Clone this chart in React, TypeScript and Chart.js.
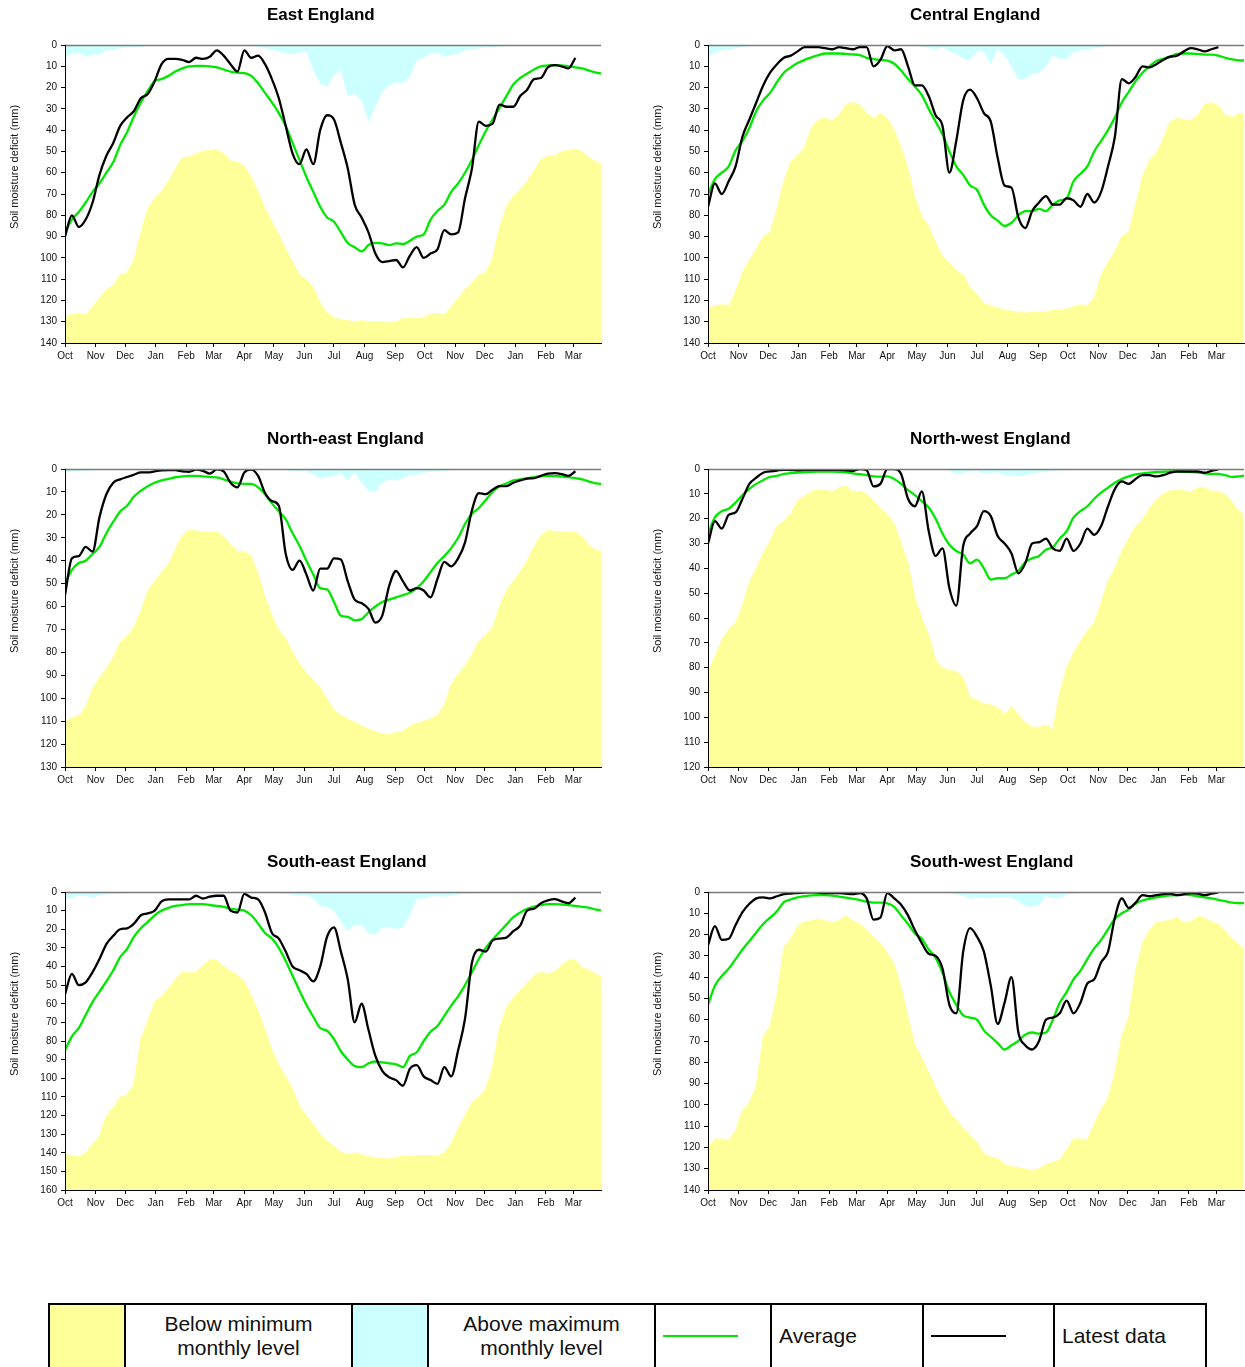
import React, { useEffect, useRef } from "react";
import { Chart, registerables } from "chart.js";

Chart.register(...registerables);

// ---------- axis / category data ----------
const MONTH_LABELS = ["Oct", "Nov", "Dec", "Jan", "Feb", "Mar", "Apr", "May", "Jun", "Jul", "Aug", "Sep", "Oct", "Nov", "Dec", "Jan", "Feb", "Mar"];
const MONTH_START_DAYS = [0, 31, 61, 92, 123, 151, 182, 212, 243, 273, 304, 335, 365, 396, 426, 457, 488, 516];
const DAYS_PER_STEP = 7; // weekly values
const X_MAX_DAY = 544;

// ---------- East England ----------
const EAST_MIN = [128, 126.5, 126, 127, 123, 119, 115, 113, 108, 107,
  101, 88, 77, 72, 69, 64, 58, 53, 52.5, 51,
  50, 49.5, 49, 51, 54.5, 55, 57, 62, 69, 77,
  83, 89, 96, 102, 108, 110.5, 114, 121, 126, 128,
  129, 129.5, 130, 129.5, 130, 130, 130, 130.3, 130, 128.5,
  128.5, 128.5, 128, 126.5, 126, 127, 123, 119, 115, 112,
  108, 107, 100, 86, 76, 71, 68, 64, 59, 54,
  52, 52, 50, 49.5, 49, 50, 53, 55, 56];
const EAST_MAX = [6, 4, 3.5, 5.5, 4.5, 4.5, 2.5, 2, 1.5, 1.2,
  1, 0.8, 0.5, 0.4, 0.3, 0.2, 0, 0, 0, 0,
  0, 0, 0, 0, 0, 0, 0, 0.3, 0.8, 1.5,
  2.2, 3, 3.8, 4.5, 3.5, 3, 12, 18, 20, 14,
  12, 24, 23, 26, 36, 29, 22, 19, 17.5, 18,
  15, 7, 6, 4, 3.5, 5.5, 4.5, 4.5, 2.5, 2,
  1.5, 1.2, 1, 0.8, 0.5, 0.4, 0.3, 0.2, 0, 0,
  0, 0, 0, 0, 0, 0, 0, 0, 0];
const EAST_AVG = [88, 82, 78.5, 74, 69, 65, 60, 55, 47, 41,
  33.5, 27, 21.5, 17, 16, 14.5, 12.5, 11, 10, 9.8,
  9.8, 10, 10.5, 11.5, 12.5, 13, 13.2, 14.5, 18, 22.5,
  27, 32, 38, 46, 54, 62, 69, 76, 81, 83,
  88, 93, 95, 97, 94, 93, 93.2, 94, 93.2, 93.5,
  92, 90, 89, 82, 78, 75, 69, 65, 60, 54,
  47, 40.5, 35, 29.5, 24, 18.5, 15.5, 13.5, 11.5, 10,
  9.6, 9.5, 9.6, 10, 10.5, 11, 12, 13, 13.5];
const EAST_LATEST = [90, 80, 85.5, 82, 74, 61, 52, 46, 38, 34,
  31, 25, 23, 17, 9, 6.5, 6.5, 7, 8, 6,
  6.5, 5.5, 2.5, 5, 9, 12.5, 2.5, 6, 5, 9,
  16, 25, 38, 51, 56, 49, 56, 40, 33, 35,
  46, 58, 75, 81, 88, 98, 102, 101.5, 101, 104.5,
  99, 95, 100, 98, 96, 87, 89, 88, 72, 58,
  36, 38, 37, 28, 29, 29, 24, 21, 16, 15.5,
  10.5, 9.5, 10, 11, 6];

// ---------- Central England ----------
const CENTRAL_MIN = [124, 122.5, 122, 122.5, 116, 107, 101, 96, 90, 88,
  77, 64, 55, 52, 48, 39, 35, 34.5, 35.5, 33,
  28, 27, 28, 32, 35, 32, 34.5, 40, 48, 58,
  72, 80.5, 85, 93, 99, 102.5, 106, 108, 114, 117,
  121.5, 122.5, 123.5, 124.5, 125, 125.5, 126, 125.5, 125.5, 125.5,
  124.5, 124.5, 124, 123, 122, 122.5, 119, 108, 102, 97,
  90, 88, 75, 62, 54, 51, 44, 36, 34.5, 35,
  35.5, 33, 28, 27, 28.5, 33, 34, 32, 33];
const CENTRAL_MAX = [6, 3.5, 2.5, 2, 1.5, 1, 0.5, 0.3, 0.2, 0,
  0, 0, 0, 0, 0, 0, 0, 0, 0, 0,
  0, 0, 0, 0, 0, 0, 0, 0, 0, 0,
  0.2, 0.8, 1.5, 2, 1, 3, 4, 6.5, 7, 3,
  3, 9, 1.5, 5, 10, 16, 16, 13.5, 13, 10,
  5, 6.5, 6.5, 3.5, 2.5, 2, 1.5, 1, 0.5, 0.3,
  0.2, 0, 0, 0, 0, 0, 0, 0, 0, 0,
  0, 0, 0, 0, 0, 0, 0, 0, 0];
const CENTRAL_AVG = [70, 63, 60, 57, 49.5, 45, 39, 31, 26, 22.5,
  17.5, 13, 10.5, 8.5, 7, 5.8, 4.8, 4, 4, 4,
  4.2, 4.4, 4.8, 6, 6.6, 7, 7.3, 8.8, 12, 16,
  19.5, 23.5, 30, 36, 42, 50, 57, 61, 66, 68,
  75, 80, 82.5, 85, 83.5, 80, 78, 78, 77, 78,
  75, 73, 72, 64, 60.5, 57, 50, 45, 40, 34,
  27, 22, 17, 13, 10, 7.5, 6.5, 5.5, 4.2, 4,
  4, 4.2, 4.5, 4.5, 5, 6, 6.7, 7.2, 7.3];
const CENTRAL_LATEST = [76, 65, 70, 64, 57, 43, 35, 27, 19, 13,
  9, 6, 5, 3, 1, 1, 1, 1.5, 2, 1,
  1.5, 2, 1, 1, 10, 7, 0.5, 2.5, 2, 10,
  19, 19, 24, 33, 38, 60, 45, 26, 21, 25,
  32, 36, 53, 66, 67, 81, 86, 78, 74, 71,
  75, 75, 72, 73, 76, 70, 74, 69, 57, 43,
  16, 18, 15, 10, 10.5, 9, 7, 5.5, 5, 3,
  1.5, 2, 3, 2, 1];

// ---------- North-east England ----------
const NORTHEAST_MIN = [110.5, 108.5, 107.5, 104, 96, 91, 87, 82, 75.5, 73,
  69, 62, 53, 49, 45, 41.5, 35, 29, 26.7, 27,
  27.5, 27.5, 27.5, 29.5, 33, 36, 36, 38, 46, 56,
  64, 70.5, 74, 80, 85, 89, 92, 95.5, 100.5, 105,
  107.5, 109, 110.5, 112, 113.5, 114.5, 115.5, 116, 115, 114.5,
  112, 111, 110, 109, 107.5, 103, 94, 89.5, 86, 81,
  75, 72.5, 69, 60, 53, 49, 45, 40, 34, 29,
  26.8, 27.2, 27.5, 27.5, 27.5, 29.5, 33.5, 35.5, 36];
const NORTHEAST_MAX = [1.5, 1.2, 1, 0.8, 0.5, 0.2, 0, 0, 0, 0,
  0, 0, 0, 0, 0, 0, 0, 0, 0, 0,
  0, 0, 0, 0, 0, 0, 0, 0, 0, 0,
  0, 0.3, 0.5, 0.8, 1, 0.8, 2.5, 4, 3.5, 3,
  2, 5, 1.5, 6, 9.5, 10, 6, 4.5, 5, 4,
  2.5, 2.5, 1.5, 1.2, 1, 0.8, 0.5, 0.2, 0, 0,
  0, 0, 0, 0, 0, 0, 0, 0, 0, 0,
  0, 0, 0, 0, 0, 0, 0, 0, 0];
const NORTHEAST_AVG = [50, 44, 41, 40, 37, 34, 28, 23, 18.5, 16,
  12, 9.5, 7.5, 6, 5, 4.3, 3.6, 3.2, 3, 3,
  3.2, 3.5, 3.7, 4.5, 5.5, 6.3, 6.5, 6.5, 8, 11,
  15, 18.5, 22, 28, 33.5, 40, 46, 52, 52.5, 58,
  64, 64.5, 66, 65.5, 62.5, 60, 58, 57, 56, 55,
  54, 52, 49, 45, 41, 38, 34.5, 30, 24, 19.5,
  17, 13.5, 10, 7.5, 6.3, 5, 4.5, 4, 3.5, 3.2,
  3, 3, 3.3, 3.5, 4, 4.5, 5.5, 6.3, 6.5];
const NORTHEAST_LATEST = [55, 39, 38, 34, 36, 21, 11, 6, 4.5, 3.5,
  2.5, 1.5, 1.5, 1, 0.6, 0.5, 0.5, 1, 1.2, 0.3,
  0.8, 2, 0.2, 1, 6, 8, 1.5, 0.3, 3, 10.5,
  14, 16, 37, 44, 40, 46, 53, 43.5, 43.5, 39,
  39.5, 49, 57, 58.5, 61, 67, 64, 51, 44.5, 49,
  53, 52, 53, 56, 48, 40.5, 42.5, 39, 32, 18,
  10.5, 11, 9, 7.5, 7.5, 6, 5, 4.2, 4, 3,
  2, 1.8, 2.2, 3, 1];

// ---------- North-west England ----------
const NORTHWEST_MIN = [82, 75.5, 69, 64.5, 62, 55, 45.5, 40, 34, 29,
  23, 21, 18, 12.5, 11, 9, 8.5, 8.5, 9.3, 7.5,
  7, 9, 9, 10, 13, 16, 18.5, 22, 30, 38,
  52, 60, 67, 77, 80, 81, 81.5, 84, 92, 93,
  94.5, 95, 96, 99, 95.5, 99, 102, 104, 104, 103,
  105, 90, 80, 74, 69.5, 65, 62, 54, 45, 40,
  33, 28, 23, 20.5, 16, 12.3, 10, 8.8, 8.5, 8.7,
  9.3, 7.5, 7.5, 9, 9, 10.5, 13.5, 17, 20];
const NORTHWEST_MAX = [0, 0, 0, 0, 0, 0, 0, 0, 0, 0,
  0, 0, 0, 0, 0, 0, 0, 0, 0, 0,
  0, 0, 0, 0, 0, 0, 0, 0, 0, 0,
  0, 0, 0, 0, 0, 0.6, 2, 1.5, 1, 0.6,
  2, 1.5, 1.3, 2.5, 2.3, 3, 2.5, 1.8, 1.5, 1.2,
  0.8, 0.6, 0.4, 0.2, 0, 0, 0, 0, 0, 0,
  0, 0, 0, 0, 0, 0, 0, 0, 0, 0,
  0, 0, 0, 0, 0, 0, 0, 0, 0];
const NORTHWEST_AVG = [26, 19.5, 17, 16, 13.5, 10.5, 8, 6, 4.5, 3.2,
  2.8, 2, 1.7, 1.5, 1.3, 1.1, 1, 1, 1, 1.1,
  1.4, 1.8, 2.1, 2.5, 3, 3.1, 3, 4, 6, 8.5,
  10.5, 13, 15.5, 20, 26, 30.5, 33, 34.5, 38, 36.5,
  40, 44.5, 44, 44, 42.5, 41, 37.5, 36, 35, 32.5,
  31.5, 28, 25, 19.5, 17, 15, 12, 9.5, 7.5, 5.5,
  4, 3, 2.2, 1.8, 1.5, 1.2, 1.1, 1, 1, 1,
  1.2, 1.4, 1.8, 2, 2, 2.5, 3.2, 3, 2.5];
const NORTHWEST_LATEST = [30, 21, 24, 18.5, 17.5, 12, 6, 3.5, 1.5, 1,
  0.6, 0.3, 0.4, 0.5, 0.3, 0.3, 0.3, 0.3, 0.3, 0.3,
  0.5, 0.8, 0, 0.5, 7, 6, 0, 0, 2, 12,
  15, 9, 25, 35, 32, 48, 55, 31, 26, 23,
  17, 19, 27, 30, 34, 42, 38, 30, 29.5, 28,
  32, 33, 28, 33, 30, 24, 26.5, 23, 15, 8,
  5, 6, 4, 2.5, 2.5, 3, 2.5, 1.5, 1, 1,
  1, 1, 1.5, 0.8, 0.2];

// ---------- South-east England ----------
const SOUTHEAST_MIN = [141, 141.5, 142, 140, 135.5, 131, 120, 116, 110, 109,
  103, 79, 69, 59, 56, 52, 47, 43, 43.5, 43,
  39.5, 36.5, 36.5, 40, 42.5, 44.5, 48, 56, 64, 74,
  85, 93, 99, 106, 115, 120, 125, 130, 134, 136.5,
  139.5, 141, 140, 141, 142, 143, 143, 143.5, 142.5, 142,
  142, 141.5, 141.5, 141.5, 141.8, 140, 135, 127, 120, 113,
  110, 106, 94, 73, 62, 57, 53, 49, 45, 43,
  44, 42.5, 39.5, 36.5, 36.5, 40.5, 42, 44, 46];
const SOUTHEAST_MAX = [4, 3, 2, 2, 3, 1.8, 1.3, 1, 0.8, 0.5,
  0.4, 0.3, 0.2, 0.1, 0, 0, 0, 0, 0, 0,
  0, 0, 0, 0, 0, 0, 0, 0, 0, 0,
  0, 0.5, 1, 1.5, 2, 1.5, 3.5, 7.5, 8, 10,
  16, 21, 17.5, 18, 22, 23, 19, 18.5, 20, 19,
  12, 4, 3.5, 2.5, 2, 2.5, 2, 1.3, 1, 0.8,
  0.5, 0.4, 0.3, 0.2, 0.1, 0, 0, 0, 0, 0,
  0, 0, 0, 0, 0, 0, 0, 0, 0];
const SOUTHEAST_AVG = [85, 77.5, 73, 66, 59, 53.5, 48, 42, 35, 30.5,
  24, 19.5, 16, 12.5, 10, 8.5, 7.5, 7, 6.5, 6.5,
  6.5, 7, 7.5, 8, 9, 9.5, 10, 12.5, 17, 22,
  25, 30, 37, 45, 53, 60.5, 67, 73, 74.5, 79,
  85.5, 90, 93.5, 94, 92, 91, 91.5, 92, 92.5, 94,
  88, 86, 80, 75, 72, 66.5, 61, 56, 50, 43,
  36, 30, 25.5, 21.5, 17.5, 13.5, 11, 9, 7.8, 7,
  6.5, 6.5, 6.7, 7, 7.5, 8, 8.5, 9.5, 10];
const SOUTHEAST_LATEST = [55, 44, 50, 48.5, 43, 36, 28, 23.5, 20, 19.5,
  17, 12.5, 11.5, 10, 5, 4, 4, 4, 4, 2,
  3.5, 2.5, 2, 2, 10, 11, 1, 3, 4, 11,
  22, 25, 32, 40, 42, 44, 48, 40, 24, 19,
  32, 47, 70, 60, 74, 88, 96, 99.5, 101, 104,
  95, 93, 99, 101, 103, 94, 99, 85, 68, 38,
  31, 32, 26, 25, 24.5, 21, 18, 10, 9, 6,
  4.5, 3.8, 5, 6, 3];

// ---------- South-west England ----------
const SOUTHWEST_MIN = [120, 116, 116, 116.5, 112, 102.5, 99, 91, 68, 63,
  48, 26, 22, 16, 14, 13.5, 12.8, 13.5, 14.5, 13.5,
  11, 13.5, 15, 18, 21.5, 24, 28.5, 34, 45, 59,
  72, 78, 85, 92, 98, 103.5, 107, 111, 114, 117.5,
  123, 124.5, 125, 128, 129, 129.5, 130, 131, 130, 128,
  127, 126, 121, 116, 116, 116.5, 109, 102, 97, 85,
  67.5, 59, 37, 24, 18, 14.5, 13.8, 13.3, 12, 14.5,
  14, 11.5, 12, 14, 15, 18.5, 22, 25, 28];
const SOUTHWEST_MAX = [1, 0.7, 0.5, 0.4, 0.3, 0.2, 0.1, 0, 0, 0,
  0, 0, 0, 0, 0, 0, 0, 0, 0, 0,
  0, 0, 0, 0, 0, 0, 0, 0, 0, 0,
  0, 0, 0, 0, 0, 0.3, 1, 1.8, 3, 2.5,
  2.5, 3, 2.5, 2.5, 2.5, 4.5, 6.5, 7, 6, 2,
  2.8, 3, 1.2, 0.7, 0.5, 0.4, 0.3, 0.2, 0.1, 0,
  0, 0, 0, 0, 0, 0, 0, 0, 0, 0,
  0, 0, 0, 0, 0, 0, 0, 0, 0];
const SOUTHWEST_AVG = [53, 44, 39.5, 36, 31.5, 27, 23, 19, 15, 12,
  9, 4.8, 3.5, 2.5, 2, 1.6, 1.5, 1.5, 1.7, 2.2,
  2.6, 3.2, 3.8, 4.5, 5, 5, 5.3, 7, 11, 15,
  19.5, 22, 27, 31, 38, 47, 53, 58, 59, 60,
  65, 68, 71, 74, 72, 70, 67, 66, 66.5, 66,
  60, 52, 47, 41, 37, 31.5, 26.5, 22.5, 17.5, 12.5,
  10, 8.2, 5.5, 4, 3.2, 2.5, 2, 1.6, 1.4, 1.2,
  1.5, 2, 2.5, 3, 3.7, 4.3, 5, 5.2, 5.3];
const SOUTHWEST_LATEST = [25, 16, 22.5, 22, 15.5, 9.5, 5.5, 3, 2.5, 3,
  2, 1, 0.7, 0.5, 0.3, 0.2, 0.3, 0.5, 0.5, 0.5,
  0.8, 1, 0.5, 3, 13, 12, 0.5, 3, 6, 11,
  18, 24, 29, 30, 36, 53, 57, 28, 17, 21,
  28, 44, 62, 52, 40, 66, 72, 74, 70, 60,
  59, 57, 51, 57, 52, 43, 41, 33, 28, 12,
  3, 7.5, 5, 1.5, 2, 1.5, 1, 0.7, 1.5, 1,
  0.5, 0.8, 1.5, 0.8, 0.2];

const REGIONS = [
  { title: "East England", yMax: 140, min: EAST_MIN, max: EAST_MAX, avg: EAST_AVG, latest: EAST_LATEST },
  { title: "Central England", yMax: 140, min: CENTRAL_MIN, max: CENTRAL_MAX, avg: CENTRAL_AVG, latest: CENTRAL_LATEST },
  { title: "North-east England", yMax: 130, min: NORTHEAST_MIN, max: NORTHEAST_MAX, avg: NORTHEAST_AVG, latest: NORTHEAST_LATEST },
  { title: "North-west England", yMax: 120, min: NORTHWEST_MIN, max: NORTHWEST_MAX, avg: NORTHWEST_AVG, latest: NORTHWEST_LATEST },
  { title: "South-east England", yMax: 160, min: SOUTHEAST_MIN, max: SOUTHEAST_MAX, avg: SOUTHEAST_AVG, latest: SOUTHEAST_LATEST },
  { title: "South-west England", yMax: 140, min: SOUTHWEST_MIN, max: SOUTHWEST_MAX, avg: SOUTHWEST_AVG, latest: SOUTHWEST_LATEST },
];

// ---------- styling ----------
const FONT = '"Liberation Sans", Arial, Helvetica, sans-serif';
const YELLOW = "#FFFF99";
const CYAN = "#CCFFFF";
const GREEN = "#00E800";
const Y_TITLE = "Soil moisture deficit (mm)";

const toPoints = (vals: number[]) => vals.map((v, i) => ({ x: i * DAYS_PER_STEP, y: v }));

const panelDecor = {
  id: "panelDecor",
  afterDatasetsDraw(chart: any) {
    const { ctx, chartArea } = chart;
    ctx.save();
    ctx.strokeStyle = "#7a7a7a";
    ctx.lineWidth = 1.5;
    ctx.beginPath();
    ctx.moveTo(chartArea.left, chartArea.top + 0.5);
    ctx.lineTo(chartArea.right, chartArea.top + 0.5);
    ctx.stroke();
    ctx.restore();
  },
  afterDraw(chart: any, _args: any, opts: any) {
    const { ctx, chartArea } = chart;
    ctx.save();
    ctx.fillStyle = "#000";
    ctx.font = `bold 17px ${FONT}`;
    ctx.textAlign = "left";
    ctx.textBaseline = "middle";
    ctx.fillText(opts.title, chartArea.left + 202, 15);
    ctx.translate(chartArea.left - 50, chartArea.top + 122);
    ctx.rotate(-Math.PI / 2);
    ctx.font = `11px ${FONT}`;
    ctx.textAlign = "center";
    ctx.fillStyle = "#111";
    ctx.fillText(Y_TITLE, 0, 0);
    ctx.restore();
  },
};

type Region = (typeof REGIONS)[number];

function Panel({ region, left, top, width, padRight }: { region: Region; left: number; top: number; width: number; padRight: number }) {
  const ref = useRef<HTMLCanvasElement | null>(null);
  useEffect(() => {
    if (!ref.current) return;
    const tickFont = { family: FONT, size: 10 };
    const chart = new Chart(ref.current, {
      type: "line",
      data: {
        datasets: [
          {
            label: "Latest data",
            data: toPoints(region.latest),
            borderColor: "#000000",
            borderWidth: 2.3,
            pointRadius: 0,
            cubicInterpolationMode: "monotone",
            fill: false,
            order: 0,
          },
          {
            label: "Average",
            data: toPoints(region.avg),
            borderColor: GREEN,
            borderWidth: 2.3,
            pointRadius: 0,
            cubicInterpolationMode: "monotone",
            fill: false,
            order: 1,
          },
          {
            label: "Above maximum monthly level",
            data: toPoints(region.max),
            borderColor: "rgba(0,0,0,0)",
            borderWidth: 1,
            backgroundColor: CYAN,
            pointRadius: 0,
            tension: 0,
            fill: { value: 0 },
            order: 2,
          },
          {
            label: "Below minimum monthly level",
            data: toPoints(region.min),
            borderColor: YELLOW,
            borderWidth: 1,
            backgroundColor: YELLOW,
            pointRadius: 0,
            tension: 0,
            fill: { value: region.yMax },
            order: 3,
          },
        ],
      },
      options: {
        animation: false,
        responsive: false,
        maintainAspectRatio: false,
        events: [],
        layout: { padding: { top: 45, right: padRight, bottom: 2, left: 0 } },
        plugins: {
          legend: { display: false },
          tooltip: { enabled: false },
          title: { display: false },
          panelDecor: { title: region.title },
        } as any,
        scales: {
          x: {
            type: "linear",
            min: 0,
            max: X_MAX_DAY,
            afterBuildTicks: (scale: any) => {
              scale.ticks = MONTH_START_DAYS.map((v) => ({ value: v }));
            },
            afterFit: (scale: any) => {
              scale.height = 20;
            },
            ticks: {
              autoSkip: false,
              maxRotation: 0,
              minRotation: 0,
              padding: 3,
              color: "#111",
              font: tickFont,
              callback: (_v: any, i: number) => MONTH_LABELS[i],
            },
            grid: { display: true, drawOnChartArea: false, drawTicks: true, tickLength: 4, color: "#000", z: 1 },
            border: { display: true, color: "#000", width: 1, z: 1 },
          },
          y: {
            type: "linear",
            reverse: true,
            min: 0,
            max: region.yMax,
            afterFit: (scale: any) => {
              scale.width = 65;
            },
            ticks: { stepSize: 10, padding: 4, color: "#111", font: tickFont },
            grid: { display: true, drawOnChartArea: false, drawTicks: true, tickLength: 4, color: "#000", z: 1 },
            border: { display: true, color: "#000", width: 1, z: 1 },
          },
        } as any,
      },
      plugins: [panelDecor as any],
    } as any);
    return () => chart.destroy();
  }, [region, padRight]);
  return (
    <canvas
      ref={ref}
      width={width}
      height={365}
      style={{ position: "absolute", left, top, width, height: 365 }}
    />
  );
}

function Legend() {
  const top = 1303;
  const h = 66;
  const cols = [48, 124, 351, 427, 654, 770, 922, 1053, 1205];
  const cell = (i: number, extra: React.CSSProperties, children?: React.ReactNode) => (
    <div
      key={i}
      style={{
        position: "absolute",
        left: cols[i],
        top,
        width: cols[i + 1] - cols[i] + 2,
        height: h,
        boxSizing: "border-box",
        border: "2px solid #000",
        fontFamily: FONT,
        fontSize: 21,
        lineHeight: "24px",
        color: "#111",
        display: "flex",
        alignItems: "center",
        ...extra,
      }}
    >
      {children}
    </div>
  );
  return (
    <>
      {cell(0, { background: YELLOW })}
      {cell(1, { justifyContent: "center", textAlign: "center" }, <span>Below minimum<br />monthly level</span>)}
      {cell(2, { background: CYAN })}
      {cell(3, { justifyContent: "center", textAlign: "center" }, <span>Above maximum<br />monthly level</span>)}
      {cell(4, {}, <div style={{ marginLeft: 7, width: 75, height: 2.5, background: GREEN }} />)}
      {cell(5, { paddingLeft: 7 }, <span>Average</span>)}
      {cell(6, {}, <div style={{ marginLeft: 7, width: 75, height: 2.5, background: "#000" }} />)}
      {cell(7, { paddingLeft: 7 }, <span>Latest data</span>)}
    </>
  );
}

export default function App() {
  const rowsTop = [0, 424, 847];
  return (
    <div
      style={{
        position: "absolute",
        left: 0,
        top: 0,
        width: 1245,
        height: 1367,
        overflow: "hidden",
        background: "#fff",
      }}
    >
      {REGIONS.map((r, i) => {
        const col = i % 2;
        const row = Math.floor(i / 2);
        return (
          <Panel
            key={r.title}
            region={r}
            left={col === 0 ? 0 : 643}
            top={rowsTop[row]}
            width={col === 0 ? 612 : 602}
            padRight={col === 0 ? 11 : 1}
          />
        );
      })}
      <Legend />
    </div>
  );
}
